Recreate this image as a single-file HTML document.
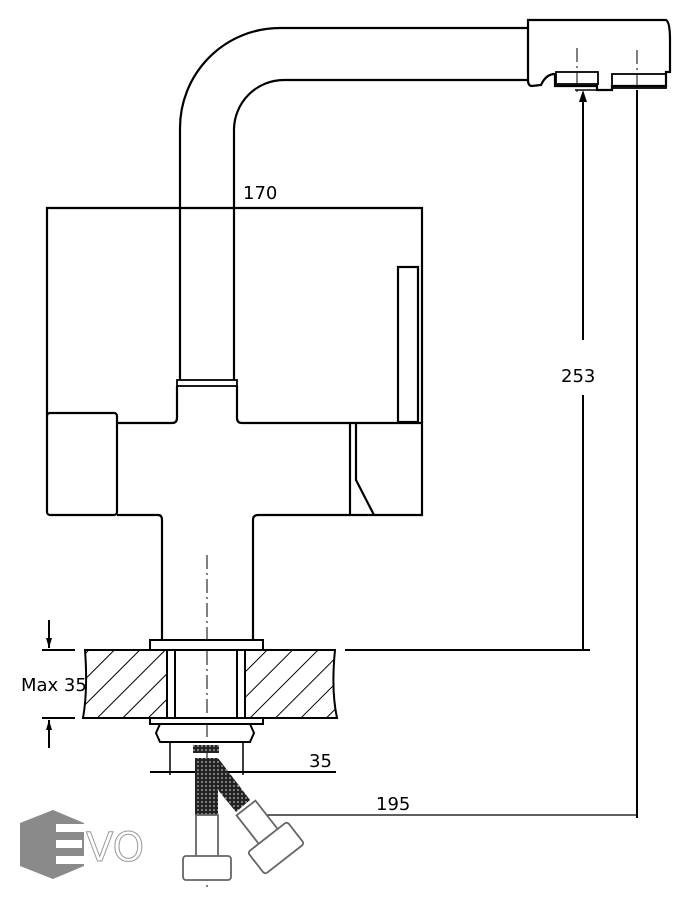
<!DOCTYPE html>
<html><head><meta charset="utf-8"><style>
html,body{margin:0;padding:0;background:#fff;}
svg{display:block;}
text{font-family:"DejaVu Sans","Liberation Sans",sans-serif;}
</style></head><body>
<svg width="695" height="900" viewBox="0 0 695 900" xmlns="http://www.w3.org/2000/svg">
<defs>
<pattern id="hatch" patternUnits="userSpaceOnUse" width="18" height="18" patternTransform="rotate(45)">
<line x1="0" y1="0" x2="0" y2="18" stroke="#000" stroke-width="2"/>
</pattern>
<pattern id="mesh" patternUnits="userSpaceOnUse" width="4" height="4">
<rect width="4" height="4" fill="#222"/><circle cx="2" cy="2" r="0.9" fill="#bbb"/>
</pattern>
</defs>
<g fill="none" stroke="#000" stroke-width="2.2">
<path d="M180,380 L180,128 A100,100 0 0 1 280,28 L528,28"/>
<path d="M234,380 L234,130 A50,50 0 0 1 284,80 L528,80"/>
<path d="M528,20 L666,20 Q670,22 670,40 L670,72 L666,72 L666,86 L612,86 L612,90 L597,90 L597,86 L555,86 L555,74 Q546,74 541,85 L532,86 Q528,86 528,80 Z"/>
<rect x="556" y="72" width="42" height="12" stroke-width="1.8"/>
<rect x="612" y="74" width="54" height="14" stroke-width="1.8"/>
<path d="M47,416 L47,208 L422,208 L422,423"/>
<rect x="398" y="267" width="20" height="155"/>
<rect x="177" y="380" width="60" height="6" stroke-width="1.8"/>
<path d="M177,386 L177,418 Q177,423 172,423 L118,423"/>
<path d="M237,386 L237,418 Q237,423 242,423 L350,423"/>
<rect x="47" y="413" width="70" height="102" rx="3"/>
<path d="M117,515 L158,515 Q162,515 162,520 L162,640"/>
<path d="M253,640 L253,520 Q253,515 258,515 L422,515 L422,423 L350,423 L350,515"/>
<path d="M356,423 L356,480 L374,515"/>
</g>
<g stroke="#000" stroke-width="1" stroke-dasharray="14,4,2,4">
<line x1="207" y1="555" x2="207" y2="890"/>
<line x1="577" y1="48" x2="577" y2="95"/>
<line x1="637" y1="50" x2="637" y2="95"/>
</g>
<path d="M85,650 L167,650 L167,718 L83,718 Q88,690 85,650 Z" fill="url(#hatch)" stroke="#000" stroke-width="2"/>
<path d="M245,650 L335,650 Q331,690 337,718 L245,718 Z" fill="url(#hatch)" stroke="#000" stroke-width="2"/>
<g fill="none" stroke="#000" stroke-width="2">
<rect x="150" y="640" width="113" height="10" fill="#fff"/>
<rect x="167" y="650" width="8" height="68" fill="#fff"/>
<rect x="237" y="650" width="8" height="68" fill="#fff"/>
<rect x="150" y="718" width="113" height="6" fill="#fff"/>
<path d="M160,724 L250,724 L254,733 L250,742 L160,742 L156,733 Z"/>
<line x1="170" y1="742" x2="170" y2="775" stroke-width="1.5"/>
<line x1="243" y1="742" x2="243" y2="775" stroke-width="1.5"/>
<line x1="150" y1="772" x2="336" y2="772"/>
<line x1="583" y1="100" x2="583" y2="340"/>
<line x1="583" y1="395" x2="583" y2="650"/>
<line x1="345" y1="650" x2="590" y2="650"/>
<line x1="575" y1="90" x2="600" y2="90" stroke-width="1.5"/>
<line x1="637" y1="90" x2="637" y2="818"/>
<line x1="240" y1="815" x2="637" y2="815" stroke-width="1.2"/>
<line x1="42" y1="650" x2="75" y2="650"/>
<line x1="42" y1="718" x2="75" y2="718"/>
<line x1="49" y1="620" x2="49" y2="648"/>
<line x1="49" y1="720" x2="49" y2="748"/>
</g>
<path d="M583,90 L579,102 L587,102 Z" fill="#000"/>
<path d="M49,648 L46,638 L52,638 Z" fill="#000"/>
<path d="M49,720 L46,730 L52,730 Z" fill="#000"/>
<rect x="193" y="745" width="26" height="8" fill="url(#mesh)"/>
<path d="M195,758 L218,758 L250,800 L236,812 L218,790 L218,815 L195,815 Z" fill="url(#mesh)"/>
<g fill="#fff" stroke="#666" stroke-width="1.8">
<rect x="196" y="815" width="22" height="42"/>
<rect x="183" y="856" width="48" height="24" rx="3"/>
<g transform="translate(246,808) rotate(-38)">
<rect x="-12" y="0" width="24" height="38"/>
<rect x="-26" y="36" width="50" height="28" rx="3"/>
</g>
</g>
<g font-size="18" fill="#000">
<text x="243" y="199">170</text>
<text x="561" y="382">253</text>
<text x="21" y="691">Max 35</text>
<text x="309" y="767">35</text>
<text x="376" y="810">195</text>
</g>
<polygon points="53,810 84,823 84,866 53,879 20,866 20,823" fill="#8a8a8a"/>
<g fill="#fff">
<rect x="56" y="824" width="28" height="8"/>
<rect x="56" y="840" width="26" height="8"/>
<rect x="56" y="856" width="28" height="8"/>
</g>
<text x="86" y="861" font-size="40" fill="#fff" stroke="#999" stroke-width="1">VO</text>
</svg>
</body></html>
